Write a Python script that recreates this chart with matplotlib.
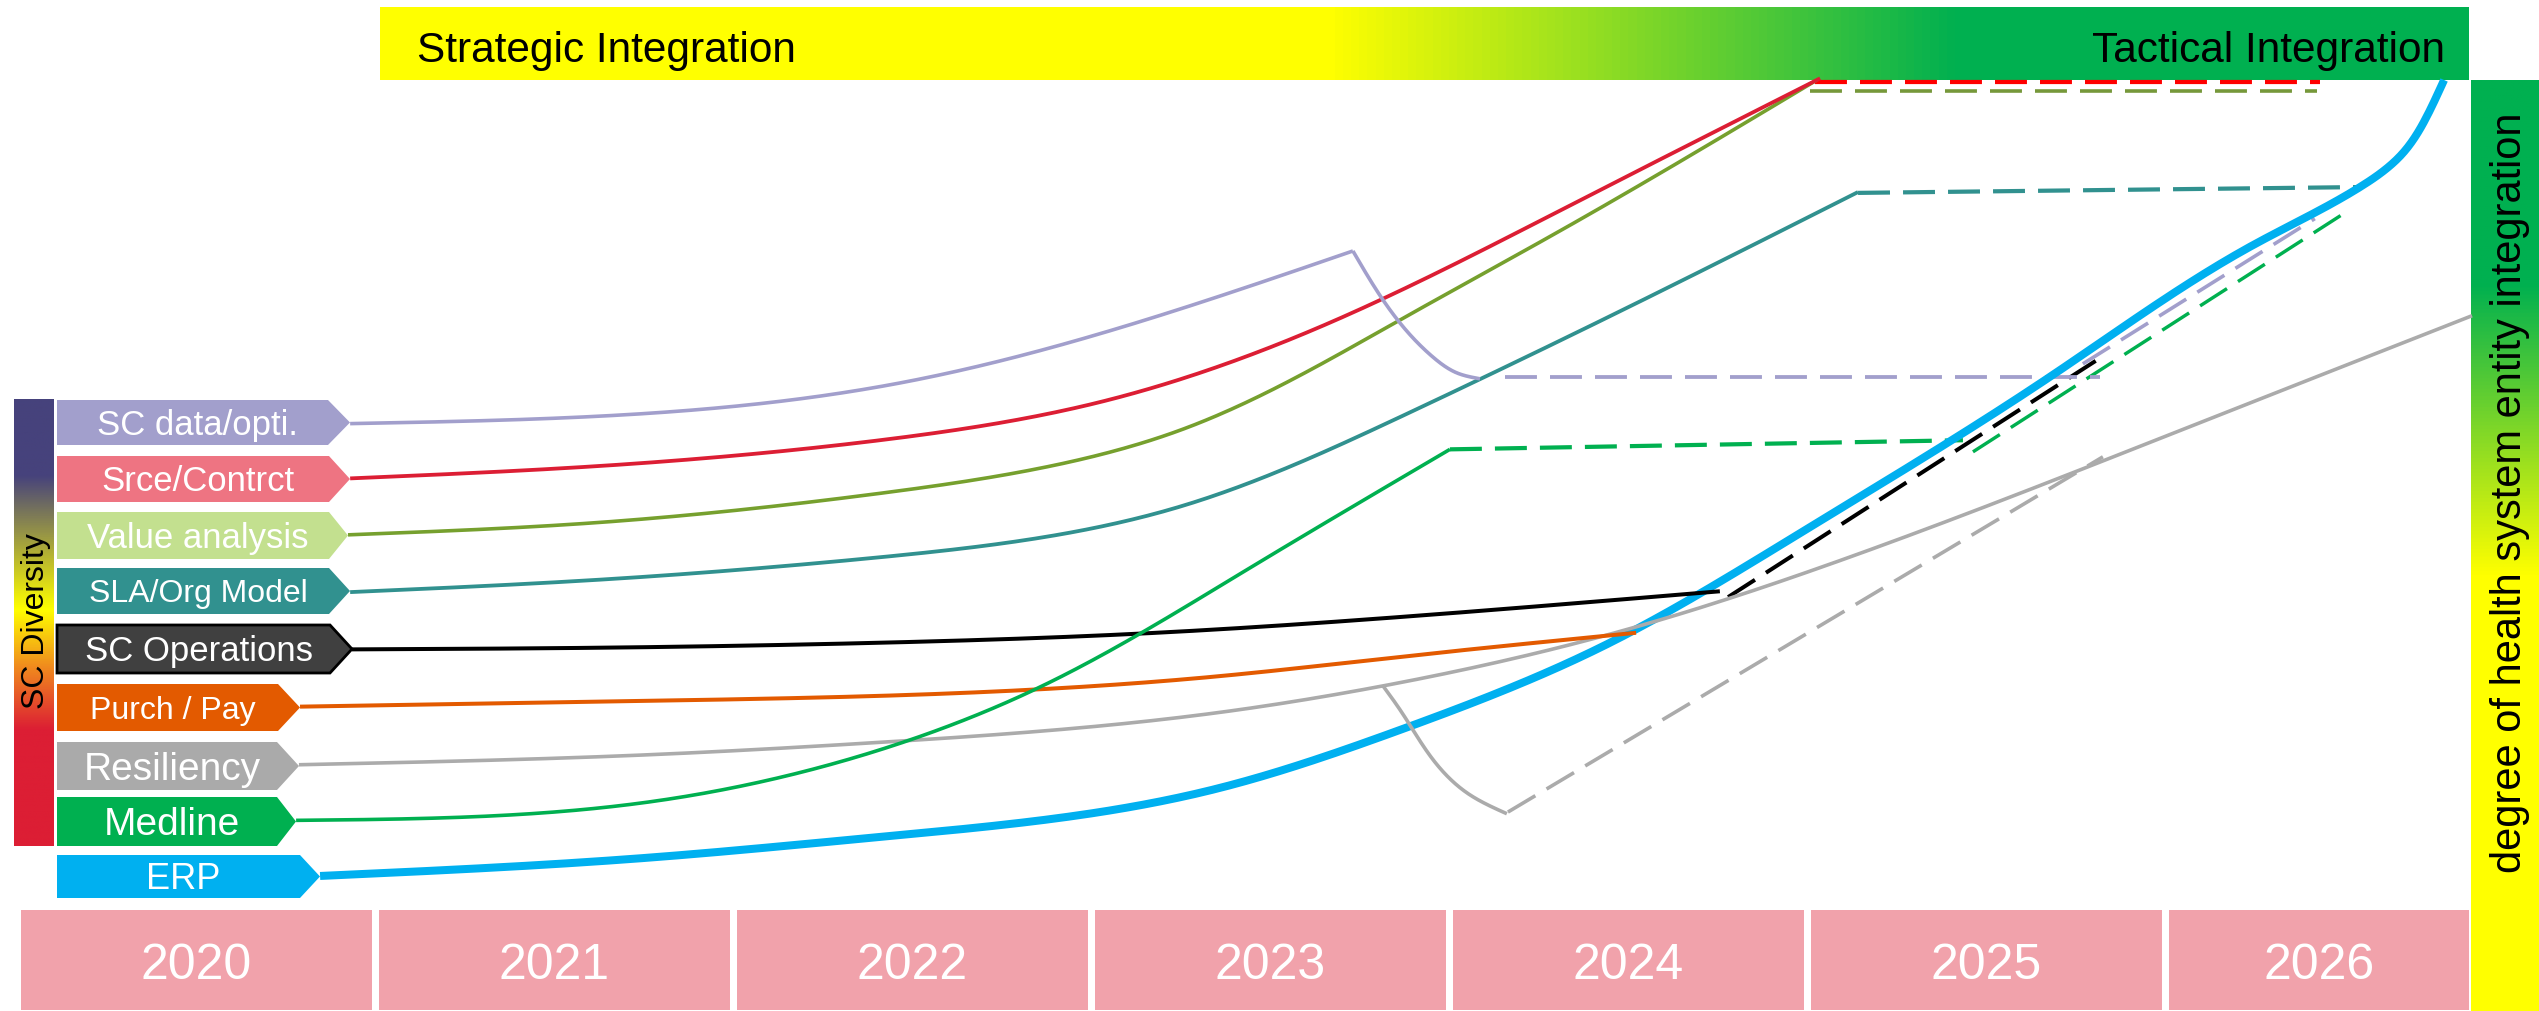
import numpy as np
import matplotlib
matplotlib.use("Agg")
import matplotlib.pyplot as plt
from matplotlib.colors import LinearSegmentedColormap
from matplotlib.patches import Polygon, Rectangle

plt.rcParams["font.family"] = ["Liberation Sans", "DejaVu Sans"]

# -------------------------------
# Data (x = year, y = degree of integration, 100 = full)
# -------------------------------
years = ["2020", "2021", "2022", "2023", "2024", "2025", "2026"]

# SC data/opti.
scdata_x = [2020.925, 2021.623, 2022.089, 2022.461, 2023.056, 2023.726]
scdata_y = [58.6, 59.5, 61.1, 63.5, 69.9, 79.4]
scdata_drop_x = [2023.726, 2023.810, 2023.858, 2023.950, 2024.017, 2024.081]
scdata_drop_y = [79.4, 73.5, 70.7, 66.6, 64.7, 64.0]
scdata_plan_x = [2024.151, 2025.813]
scdata_plan_y = [64.2, 64.2]
scdata_trend_x = [2025.765, 2026.413]
scdata_trend_y = [65.8, 83.3]

# Srce/Contrct
srce_x = [2020.925, 2021.623, 2022.405, 2023.020, 2023.615, 2024.324, 2025.031]
srce_y = [52.0, 53.5, 56.6, 61.2, 69.9, 84.7, 100.2]
srce_plan_x = [2025.017, 2026.427]
srce_plan_y = [99.8, 99.8]

# Value analysis
value_x = [2020.919, 2021.623, 2022.405, 2022.872, 2023.243, 2023.858, 2024.324, 2025.022]
value_y = [45.2, 46.7, 50.2, 53.4, 57.8, 71.1, 82.3, 100.0]
value_plan_x = [2025.003, 2026.419]
value_plan_y = [98.7, 98.7]

# SLA/Org Model
sla_x = [2020.925, 2021.623, 2022.405, 2023.243, 2023.858, 2024.508, 2025.137]
sla_y = [38.3, 39.8, 42.5, 48.6, 59.4, 72.9, 86.5]
sla_plan_x = [2025.137, 2026.539]
sla_plan_y = [86.4, 87.1]

# SC Operations
ops_x = [2020.930, 2021.623, 2022.405, 2023.131, 2023.858, 2024.751]
ops_y = [31.4, 31.6, 32.2, 33.3, 35.3, 38.4]
ops_plan_x = [2024.774, 2025.813]
ops_plan_y = [37.7, 66.5]

# Purch / Pay
purch_x = [2020.785, 2021.757, 2022.405, 2023.335, 2023.858, 2024.517]
purch_y = [24.5, 25.2, 25.8, 28.1, 30.5, 33.4]

# Resiliency
resil_x = [2020.782, 2021.757, 2022.405, 2023.335, 2023.810, 2024.508, 2025.067, 2026.056, 2026.852]
resil_y = [17.5, 18.7, 20.2, 23.7, 27.0, 34.0, 41.8, 58.1, 71.6]
resil_drop_x = [2023.810, 2023.858, 2023.950, 2024.045, 2024.156]
resil_drop_y = [27.0, 24.1, 18.1, 14.1, 11.6]
resil_plan_x = [2024.159, 2025.821]
resil_plan_y = [11.8, 54.6]

# Medline
medline_x = [2020.774, 2021.757, 2022.405, 2022.844, 2023.430, 2023.997]
medline_y = [10.8, 13.0, 19.3, 26.7, 41.0, 55.5]
medline_plan_x = [2023.997, 2025.430]
medline_plan_y = [55.5, 56.6]
medline_trend_x = [2025.458, 2026.497]
medline_trend_y = [55.2, 84.0]

# ERP
erp_x = [2020.841, 2021.757, 2022.405, 2023.335, 2023.858, 2024.416, 2024.975, 2025.682,
         2026.240, 2026.539, 2026.659, 2026.735, 2026.774]
erp_y = [4.1, 6.3, 8.8, 14.5, 21.7, 31.6, 45.4, 64.5, 80.1, 87.1, 91.2, 96.4, 100.0]

# label boxes on the left (pixel layout)
box_labels = ["SC data/opti.", "Srce/Contrct", "Value analysis", "SLA/Org Model", "SC Operations",
              "Purch / Pay", "Resiliency", "Medline", "ERP"]
box_colors = ["#A29FCC", "#EE7482", "#C3E08F", "#31918F", "#404040",
              "#E35A00", "#AAAAAA", "#00B050", "#00B0F0"]
box_top = [400, 456, 512, 568, 625, 684, 742, 797, 855]
box_bottom = [445, 502, 559, 614, 673, 731, 790, 846, 898]
box_body_end = [328, 329, 329, 329, 330, 278, 277, 277, 300]
box_tip = [350, 350, 348, 350, 352, 300, 299, 296, 320]
box_text_x = [197, 198, 198, 198, 199, 173, 172, 172, 183]
box_text_size = [25, 25, 25, 23, 25, 23, 28, 28, 26]


def natural(t, v, tt):
    n = len(t)
    h = np.diff(t)
    A = np.zeros((n, n))
    r = np.zeros(n)
    A[0, 0] = A[-1, -1] = 1
    for i in range(1, n - 1):
        A[i, i - 1] = h[i - 1]
        A[i, i] = 2 * (h[i - 1] + h[i])
        A[i, i + 1] = h[i]
        r[i] = 6 * ((v[i + 1] - v[i]) / h[i] - (v[i] - v[i - 1]) / h[i - 1])
    M = np.linalg.solve(A, r)
    i = np.clip(np.searchsorted(t, tt) - 1, 0, n - 2)
    a = t[i + 1] - tt
    b = tt - t[i]
    hi = h[i]
    return (M[i] * a ** 3 / (6 * hi) + M[i + 1] * b ** 3 / (6 * hi)
            + (v[i] / hi - M[i] * hi / 6) * a + (v[i + 1] / hi - M[i + 1] * hi / 6) * b)


def spline(xs, ys, n=400):
    # smooth line through the read points (chord length measured in screen pixels)
    x = np.asarray(xs, float)
    y = np.asarray(ys, float)
    t = np.concatenate([[0], np.cumsum(np.hypot(np.diff(x) * 358, np.diff(y) * 8.3))])
    tt = np.linspace(0, t[-1], n)
    return natural(t, x, tt), natural(t, y, tt)


W, H = 2539, 1011
fig = plt.figure(figsize=(W / 100, H / 100), dpi=100)
deco = fig.add_axes([0, 0, 1, 1])
ax = fig.add_axes([0, 0, 1, 1])
ax.patch.set_alpha(0)

# -------------------------------
# Gradient bars
# -------------------------------
top_cmap = LinearSegmentedColormap.from_list(
    "top", [(0, "#FFFF00"), (0.455, "#FFFF00"), (0.756, "#00B050"), (1, "#00B050")])
deco.imshow(np.linspace(0, 1, 512)[None, :], cmap=top_cmap, aspect="auto",
            extent=(380, 2469, 80, 7), zorder=1)
deco.text(417, 62, "Strategic Integration", fontsize=30.5, ha="left", va="baseline", zorder=3)
deco.text(2445, 62, "Tactical Integration", fontsize=30.5, ha="right", va="baseline", zorder=3)

right_cmap = LinearSegmentedColormap.from_list(
    "right", [(0, "#00B050"), (0.219, "#00B050"), (0.532, "#FFFF00"), (1, "#FFFF00")])
deco.imshow(np.linspace(0, 1, 512)[:, None], cmap=right_cmap, aspect="auto",
            extent=(2471, 2539, 1011, 80), zorder=1)
deco.text(2510, 493, "degree of health system entity integration", fontsize=30,
          rotation=90, ha="center", va="center", zorder=3)

div_cmap = LinearSegmentedColormap.from_list(
    "div", [(0, "#46427C"), (0.17, "#46427C"), (0.47, "#FFFF00"), (0.6, "#F08A1E"),
            (0.74, "#DC1E34"), (1, "#DC1E34")])
deco.imshow(np.linspace(0, 1, 512)[:, None], cmap=div_cmap, aspect="auto",
            extent=(14, 54, 846, 399), zorder=1)
deco.text(36, 621, "SC Diversity", fontsize=23, rotation=90, ha="center", va="center", zorder=3)

# -------------------------------
# Label arrows
# -------------------------------
for i, name in enumerate(box_labels):
    top, bot = box_top[i], box_bottom[i]
    mid = (top + bot) / 2
    poly = [(57, top), (box_body_end[i], top), (box_tip[i], mid), (box_body_end[i], bot), (57, bot)]
    edge = "black" if name == "SC Operations" else "none"
    deco.add_patch(Polygon(poly, closed=True, facecolor=box_colors[i], edgecolor=edge,
                           lw=2, joinstyle="miter", zorder=2))
    size = box_text_size[i]
    baseline = mid + 0.5 * 0.716 * size * 100 / 72
    deco.text(box_text_x[i], baseline, name, color="white", fontsize=size,
              ha="center", va="baseline", zorder=3)

deco.set_xlim(0, W)
deco.set_ylim(H, 0)
deco.axis("off")

# -------------------------------
# Year boxes
# -------------------------------
right_limit = 2026.844
for i, yr in enumerate(years):
    x0 = 2020 + i + 0.005
    w = min(0.98, right_limit - x0)
    ax.add_patch(Rectangle((x0, -12.05), w, 12.05, facecolor="#F1A2AB", edgecolor="none", zorder=1))
    ax.text(x0 + w / 2, -8.3, yr, color="white", fontsize=36, ha="center", va="baseline", zorder=2)

# -------------------------------
# Curves
# -------------------------------
PX = 0.72  # points per pixel


def dashed(x, y, color, lw_px):
    lw = lw_px * PX
    ax.plot(x, y, color=color, lw=lw, ls=(0, (23 / lw, 9.4 / lw)),
            dash_capstyle="butt", zorder=4)


def solid(x, y, color, lw_px):
    sx, sy = spline(x, y)
    ax.plot(sx, sy, color=color, lw=lw_px * PX, solid_capstyle="butt", zorder=5)


solid(erp_x, erp_y, "#00B0F0", 8)

solid(resil_x, resil_y, "#ABABAB", 3.6)
solid(resil_drop_x, resil_drop_y, "#ABABAB", 3.6)
dashed(resil_plan_x, resil_plan_y, "#ABABAB", 3.6)

solid(purch_x, purch_y, "#E35A00", 4)

solid(ops_x, ops_y, "#000000", 4)
dashed(ops_plan_x, ops_plan_y, "#000000", 4)

solid(medline_x, medline_y, "#00B050", 3.6)
dashed(medline_plan_x, medline_plan_y, "#00B050", 4.2)
dashed(medline_trend_x, medline_trend_y, "#00B050", 3.4)

solid(sla_x, sla_y, "#31918F", 3.8)
dashed(sla_plan_x, sla_plan_y, "#31918F", 4.2)

solid(value_x, value_y, "#76A02E", 3.6)
dashed(value_plan_x, value_plan_y, "#76983A", 3.6)

solid(srce_x, srce_y, "#DC1E34", 3.8)
dashed(srce_plan_x, srce_plan_y, "#FF0000", 4.2)

solid(scdata_x, scdata_y, "#A29FCC", 3.6)
solid(scdata_drop_x, scdata_drop_y, "#A29FCC", 3.6)
dashed(scdata_plan_x, scdata_plan_y, "#A29FCC", 3.8)
dashed(scdata_trend_x, scdata_trend_y, "#A29FCC", 3.6)

ax.set_xlim(2020 - 19 / 358, 2020 + 2520 / 358)
ax.set_ylim(-101 / 8.3, 910 / 8.3)
ax.axis("off")

fig.savefig("out.png", dpi=100)
